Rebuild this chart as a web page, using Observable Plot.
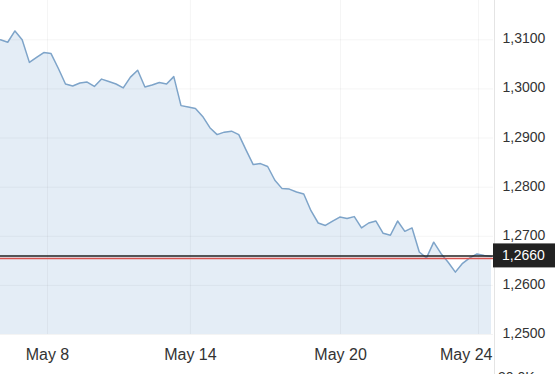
<!DOCTYPE html>
<html><head><meta charset="utf-8">
<script src="https://cdn.jsdelivr.net/npm/d3@7"></script>
<script src="https://cdn.jsdelivr.net/npm/@observablehq/plot@0.6"></script>
<style>
html,body{margin:0;padding:0;background:#fff;overflow:hidden;}
#chart svg{display:block;}
</style></head><body><div id="chart"></div>
<script>
// GBP/USD-style rate, one value per sampling step
const rates = [
  1.3100, 1.3095, 1.3118, 1.3100, 1.3054, 1.3064, 1.3074, 1.3072, 1.3042, 1.3010,
  1.3006, 1.3012, 1.3014, 1.3005, 1.3020, 1.3015, 1.3010, 1.3002, 1.3024, 1.3038,
  1.3004, 1.3008, 1.3013, 1.3010, 1.3025, 1.2966, 1.2963, 1.2960, 1.2944, 1.2921,
  1.2907, 1.2912, 1.2914, 1.2907, 1.2876, 1.2846, 1.2848, 1.2842, 1.2814, 1.2797,
  1.2796, 1.2790, 1.2786, 1.2752, 1.2727, 1.2722, 1.2731, 1.2739, 1.2736, 1.2740,
  1.2717, 1.2727, 1.2731, 1.2706, 1.2702, 1.2731, 1.2710, 1.2717, 1.2668, 1.2656,
  1.2688, 1.2665, 1.2647, 1.2627, 1.2645, 1.2656, 1.2664, 1.2661, 1.2659
];
const xTicks = [6.5, 26.3, 47.1, 66.2];
const xLabels = ["May 8", "May 14", "May 20", "May 24"];
const yTicks = [1.25, 1.26, 1.27, 1.28, 1.29, 1.30, 1.31];
const yLabels = ["1,2500", "1,2600", "1,2700", "1,2800", "1,2900", "1,3000", "1,3100"];
const current = 1.2660;
const currentLabel = "1,2660";
const volumeLabel = "30,0K";

const data = rates.map((v, i) => ({i, v}));
const font = "'Liberation Sans', Arial, sans-serif";

const extras = (index, scales, values, dims) => {
  const g = d3.create("svg:g").attr("text-anchor", "start");
  const xr = dims.width - dims.marginRight;
  g.append("line").attr("x1", xr + 1.5).attr("x2", xr + 1.5).attr("y1", 0).attr("y2", dims.height)
    .attr("stroke", "#e4e4e4").attr("stroke-width", 1);
  const y = scales.y(current);
  g.append("rect").attr("x", xr).attr("y", y - 12).attr("width", dims.marginRight).attr("height", 24).attr("fill", "#222");
  g.append("text").attr("x", xr + 9).attr("y", y).attr("dy", "0.35em").attr("fill", "#fff")
    .attr("text-anchor", "start").attr("font-size", 14).attr("font-family", font).text(currentLabel);
  g.append("text").attr("x", xr + 5).attr("y", dims.height + 8).attr("fill", "#333")
    .attr("text-anchor", "start").attr("font-size", 14).attr("font-family", font).text(volumeLabel);
  return g.node();
};

const plot = Plot.plot({
  width: 555, height: 374,
  marginLeft: 0, marginRight: 62, marginTop: 0, marginBottom: 40,
  style: {fontFamily: font, background: "#fff", color: "#333", overflow: "hidden"},
  x: {domain: [0, 68.28], axis: null},
  y: {domain: [1.25, 1.318], axis: null},
  marks: [
    Plot.areaY(data, {x: "i", y1: () => yTicks[0], y2: "v", fill: "#e4edf6"}),
    Plot.gridX(xTicks, {stroke: "#000", strokeOpacity: 0.045}),
    Plot.gridY(yTicks, {stroke: "#000", strokeOpacity: 0.045}),
    Plot.lineY(data, {x: "i", y: "v", stroke: "#7ea4c9", strokeWidth: 1.5}),
    Plot.ruleY([current], {stroke: "#222", strokeWidth: 1.5}),
    Plot.ruleY([current], {stroke: "#d9534f", strokeWidth: 1.5, dy: 2.6}),
    Plot.axisY(yTicks, {anchor: "right", label: null, tickSize: 0, tickPadding: 9, dy: -1,
      tickFormat: (d, i) => yLabels[i], fontSize: 14, fill: "#333"}),
    Plot.text(xTicks.slice(0, 3), {x: d => d, text: (d, i) => xLabels[i], frameAnchor: "bottom",
      dy: 25, fontSize: 16, fill: "#333"}),
    Plot.text(xTicks.slice(3), {x: d => d, text: (d, i) => xLabels[i + 3], frameAnchor: "bottom",
      dy: 25, dx: 14, textAnchor: "end", fontSize: 16, fill: "#333"}),
    extras
  ]
});
document.getElementById("chart").appendChild(plot);
</script></body></html>
